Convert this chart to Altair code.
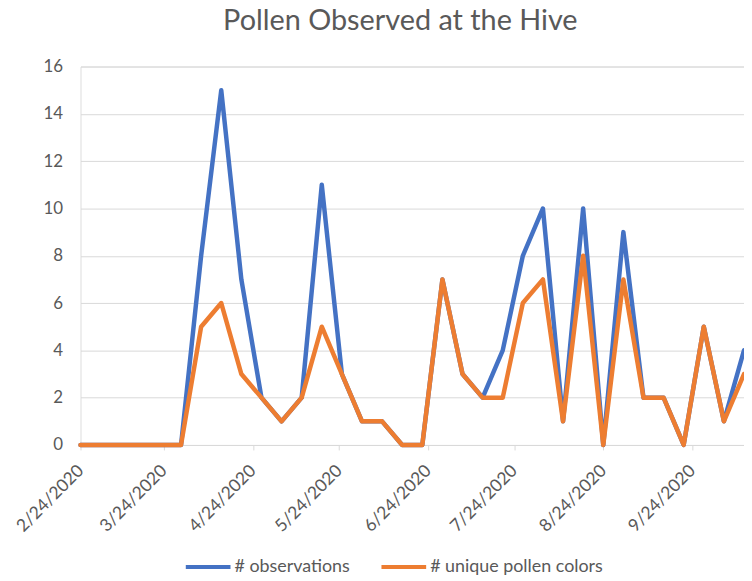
import altair as alt
import pandas as pd

dates = ["2020/02/24", "2020/03/02", "2020/03/09", "2020/03/16", "2020/03/23", "2020/03/30",
         "2020/04/06", "2020/04/13", "2020/04/20", "2020/04/27", "2020/05/04", "2020/05/11",
         "2020/05/18", "2020/05/25", "2020/06/01", "2020/06/08", "2020/06/15", "2020/06/22",
         "2020/06/29", "2020/07/06", "2020/07/13", "2020/07/20", "2020/07/27", "2020/08/03",
         "2020/08/10", "2020/08/17", "2020/08/24", "2020/08/31", "2020/09/07", "2020/09/14",
         "2020/09/21", "2020/09/28", "2020/10/05", "2020/10/12"]
observations = [0, 0, 0, 0, 0, 0, 8, 15, 7, 2, 1, 2, 11, 3, 1, 1, 0, 0, 7, 3, 2, 4, 8, 10,
                1, 10, 0, 9, 2, 2, 0, 5, 1, 4]
unique_colors = [0, 0, 0, 0, 0, 0, 5, 6, 3, 2, 1, 2, 5, 3, 1, 1, 0, 0, 7, 3, 2, 2, 6, 7,
                 1, 8, 0, 7, 2, 2, 0, 5, 1, 3]
series_names = ["# observations", "# unique pollen colors"]
series_colors = ["#4472C4", "#ED7D31"]
tick_months = [2, 3, 4, 5, 6, 7, 8, 9]
y_ticks = [0, 2, 4, 6, 8, 10, 12, 14, 16]

df = pd.DataFrame({"date": dates, series_names[0]: observations, series_names[1]: unique_colors})

FONT = "Lato"
TXT = "#595959"
GRID = "#D9D9D9"

chart = alt.Chart(df).transform_fold(
    series_names, as_=["series", "value"]
).mark_line(strokeWidth=4.5, strokeJoin="round", strokeCap="round").encode(
    x=alt.X("date:T", title=None,
            scale=alt.Scale(nice=False),
            axis=alt.Axis(values=[alt.DateTime(year=2020, month=m, date=24) for m in tick_months],
                          format="%-m/%-d/%Y", labelAngle=-45, labelAlign="right",
                          labelBaseline="middle", labelPadding=18, labelFontSize=17.5,
                          labelFont=FONT, labelColor=TXT, grid=False,
                          domainColor=GRID, domainWidth=1, tickColor=GRID, tickSize=5,
                          labelOverlap=False, labelFlush=False)),
    y=alt.Y("value:Q", title=None,
            scale=alt.Scale(domain=[0, 16], nice=False),
            axis=alt.Axis(values=y_ticks, domain=False, ticks=False, labelPadding=18,
                          labelFontSize=17, labelFont=FONT, labelColor=TXT,
                          gridColor=GRID, gridWidth=1)),
    color=alt.Color("series:N", sort=series_names,
                    scale=alt.Scale(domain=series_names, range=series_colors),
                    legend=alt.Legend(title=None, orient="none", direction="horizontal",
                                      legendX=104, legendY=479,
                                      symbolType="stroke", symbolSize=2025,
                                      symbolStrokeWidth=4, labelFontSize=18,
                                      labelFont=FONT, labelColor=TXT, labelOffset=2,
                                      labelLimit=400, columnPadding=23)),
).properties(
    width=668, height=381,
    title=alt.TitleParams("Pollen Observed at the Hive", fontSize=29, font=FONT,
                          color=TXT, fontWeight="normal", anchor="middle",
                          offset=22, dx=-12),
    autosize=alt.AutoSizeParams(type="none"),
    padding={"left": 73, "top": 57, "right": 0, "bottom": 134},
).configure_view(stroke=None).configure(background="white")

chart.save("out.html", embed_options={"renderer": "svg", "actions": False})
